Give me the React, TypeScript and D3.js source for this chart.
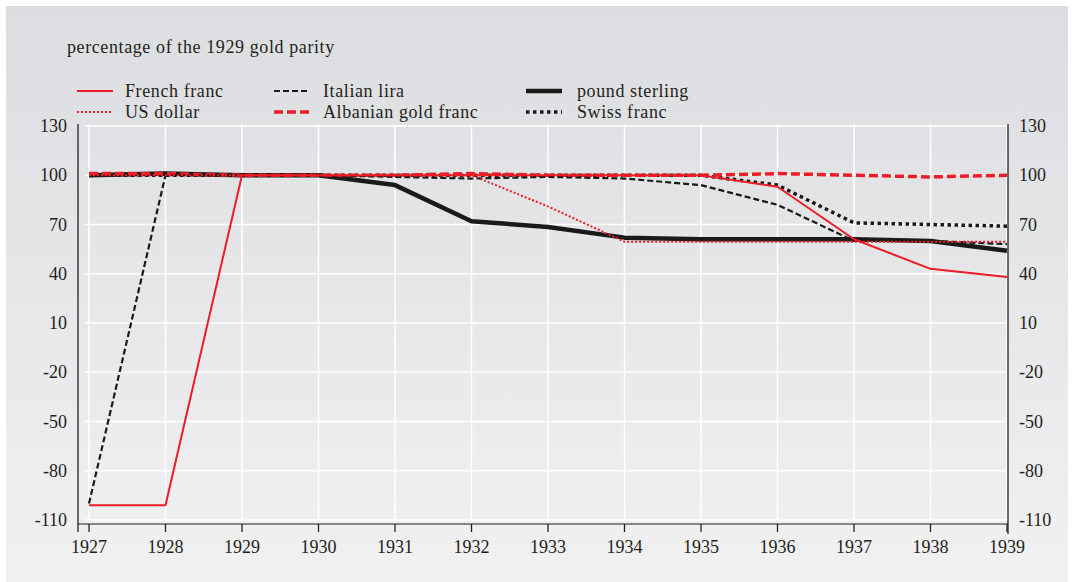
import React from 'react';
import * as d3 from 'd3';

const years = [1927, 1928, 1929, 1930, 1931, 1932, 1933, 1934, 1935, 1936, 1937, 1938, 1939];
const yTicks = [130, 100, 70, 40, 10, -20, -50, -80, -110];

const frenchFranc = [-101, -101, 100, 100, 100, 100, 100, 100, 100, 93, 61, 43, 38];
const usDollar = [100, 100, 100, 100, 100, 100, 81, 59.5, 59.5, 59.5, 59.5, 59.5, 59.5];
const italianLira = [-100, 100, 100, 100, 99, 98, 99, 98, 94, 82, 60, 60, 58];
const albanianFranc = [101, 101, 100, 100, 100, 101, 100, 100, 100, 101, 100, 99, 100];
const poundSterling = [100, 101, 100, 100, 94, 72, 68.5, 62, 61, 61, 61, 60, 54];
const swissFranc = [100, 100, 100, 100, 100, 100, 100, 100, 100, 94, 71, 70, 69];

interface Series {
    name: string;
    values: number[];
    color: string;
    width: number;
    dash: string;
}

const series: Series[] = [
    { name: 'French franc', values: frenchFranc, color: '#ee1c25', width: 2, dash: '' },
    { name: 'US dollar', values: usDollar, color: '#ee1c25', width: 2, dash: '2,2' },
    { name: 'Italian lira', values: italianLira, color: '#1a1a1a', width: 2.2, dash: '6,3' },
    { name: 'Albanian gold franc', values: albanianFranc, color: '#ee1c25', width: 3.5, dash: '9,4' },
    { name: 'pound sterling', values: poundSterling, color: '#1a1a1a', width: 4.5, dash: '' },
    { name: 'Swiss franc', values: swissFranc, color: '#1a1a1a', width: 3.5, dash: '3.5,3.5' },
];

// thin lines drawn on top of thick ones
const drawOrder = ['pound sterling', 'Swiss franc', 'Albanian gold franc', 'Italian lira', 'US dollar', 'French franc'];

const legendPos = [
    { x: 77, y: 91, tx: 125 }, { x: 77, y: 112, tx: 125 },
    { x: 274, y: 91, tx: 323 }, { x: 274, y: 112, tx: 323 },
    { x: 526, y: 91, tx: 577 }, { x: 526, y: 112, tx: 577 },
];

const App = () => {
    const width = 1072;
    const height = 582;
    const font = "'Liberation Serif', Tinos, 'Times New Roman', Times, serif";
    const numStyle = { fontFamily: font, fontSize: 18 };
    const textStyle = { fontFamily: font, fontSize: 18, letterSpacing: 0.6 };

    const x = d3.scaleLinear().domain([1927, 1939]).range([89, 1007]);
    const y = d3.scaleLinear().domain([-110, 130]).range([520, 126]);

    const line = d3.line<number>()
        .x((_, i) => x(years[i]))
        .y(d => y(d));

    return (
        <svg width={width} height={height} style={{ position: 'absolute', left: 0, top: 0, display: 'block' }}>
            <defs>
                <linearGradient id="bg" x1="0" y1="0" x2="0" y2="1">
                    <stop offset="0" stopColor="#dcdde0" />
                    <stop offset="1" stopColor="#f1f1f2" />
                </linearGradient>
            </defs>
            <rect x={0} y={0} width={width} height={height} fill="#ffffff" />
            <rect x={6} y={6} width={width - 10} height={height - 6} fill="url(#bg)" />

            <text x={67} y={53} style={textStyle} fill="#231f20">
                percentage of the 1929 gold parity
            </text>

            {/* grid */}
            {years.map(yr => (
                <line key={yr} x1={x(yr)} x2={x(yr)} y1={124} y2={521} stroke="#ffffff" strokeWidth={1.5} />
            ))}
            {yTicks.map(t => (
                <line key={t} x1={85} x2={1007} y1={y(t)} y2={y(t)} stroke="#ffffff" strokeWidth={1.5} />
            ))}

            {/* axes */}
            <line x1={78} x2={78} y1={124} y2={532} stroke="#231f20" strokeWidth={1.3} />
            <line x1={1008} x2={1008} y1={124} y2={534} stroke="#231f20" strokeWidth={1.3} />
            <line x1={78} x2={1008} y1={524} y2={524} stroke="#231f20" strokeWidth={1.2} />
            {years.map(yr => (
                <line key={yr} x1={x(yr)} x2={x(yr)} y1={524} y2={532} stroke="#231f20" strokeWidth={1.3} />
            ))}

            {yTicks.map(t => (
                <g key={t}>
                    <text x={67} y={y(t) + 6} textAnchor="end" style={numStyle} fill="#231f20">{t}</text>
                    <text x={1019} y={y(t) + 6} textAnchor="start" style={numStyle} fill="#231f20">{t}</text>
                </g>
            ))}
            {years.map(yr => (
                <text key={yr} x={x(yr)} y={553} textAnchor="middle" style={numStyle} fill="#231f20">{yr}</text>
            ))}

            {/* lines */}
            {drawOrder.map(name => {
                const s = series.find(d => d.name === name)!;
                return (
                    <path key={name} d={line(s.values) || ''} fill="none" stroke={s.color}
                        strokeWidth={s.width} strokeDasharray={s.dash} strokeLinejoin="round" />
                );
            })}

            {/* legend */}
            {series.map((s, i) => {
                const p = legendPos[i];
                return (
                    <g key={s.name}>
                        <line x1={p.x} x2={p.x + 36} y1={p.y} y2={p.y} stroke={s.color}
                            strokeWidth={s.width} strokeDasharray={s.dash} />
                        <text x={p.tx} y={p.y + 6} style={textStyle} fill="#231f20">{s.name}</text>
                    </g>
                );
            })}
        </svg>
    );
};

export default App;
